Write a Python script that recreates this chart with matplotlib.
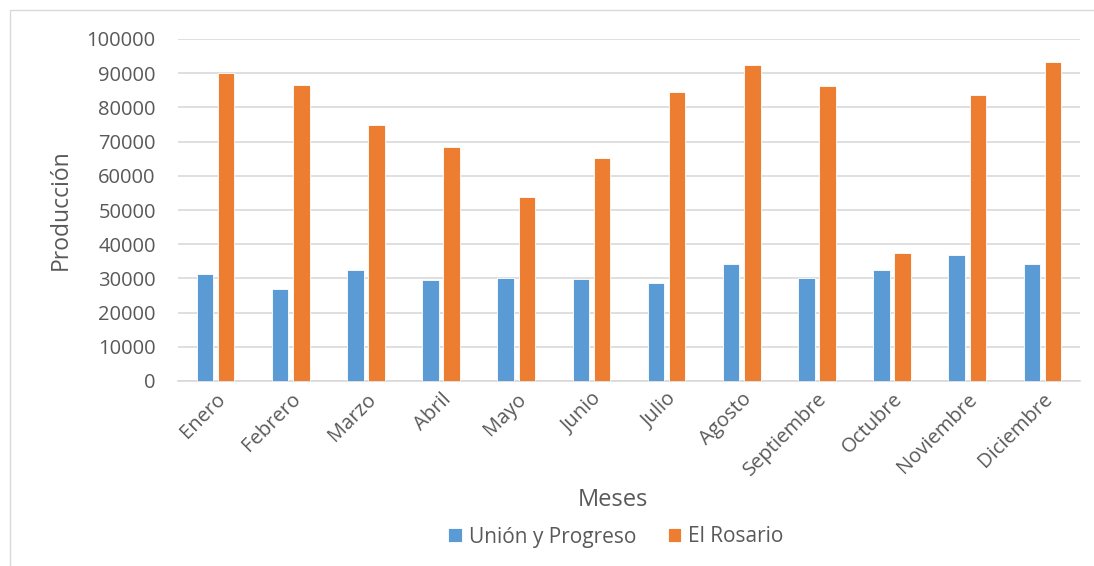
import numpy as np
import matplotlib.pyplot as plt
from matplotlib.patches import Rectangle

meses = ["Enero", "Febrero", "Marzo", "Abril", "Mayo", "Junio", "Julio",
         "Agosto", "Septiembre", "Octubre", "Noviembre", "Diciembre"]
union_progreso = [31400, 26800, 32500, 29400, 30000, 29900, 28600,
                  34300, 30000, 32500, 36700, 34300]
el_rosario = [90200, 86500, 74900, 68400, 53800, 65300, 84600,
              92500, 86200, 37500, 83500, 93400]

plt.rcParams['font.family'] = ['Open Sans', 'DejaVu Sans']
gris = "#595959"

fig = plt.figure(figsize=(10.94, 5.66), dpi=100)
ax = fig.add_axes([178 / 1094, 1 - 381 / 566, (1080 - 178) / 1094, (381 - 39) / 566])

# light chart border
fig.patches.append(Rectangle((10 / 1094, -0.01), 1.1, 1 - 10 / 566 + 0.01,
                             transform=fig.transFigure, fill=False,
                             edgecolor="#D9D9D9", linewidth=1))

x = np.arange(len(meses))
w = 0.22
ax.bar(x - 0.14, union_progreso, w, color="#5B9BD5", edgecolor="white",
       linewidth=0.6, label="Unión y Progreso", zorder=3)
ax.bar(x + 0.14, el_rosario, w, color="#ED7D31", edgecolor="white",
       linewidth=0.6, label="El Rosario", zorder=3)

ax.set_xlim(-0.5, len(meses) - 0.5)
ax.set_ylim(0, 100000)
ax.set_yticks(np.arange(0, 100001, 10000))
ax.yaxis.grid(True, color="#D9D9D9", linewidth=1.2, zorder=0)
for s in ["top", "right", "left"]:
    ax.spines[s].set_visible(False)
ax.spines["bottom"].set_color("#D9D9D9")
ax.spines["bottom"].set_linewidth(1.2)
ax.tick_params(axis="both", length=0, colors=gris, labelsize=14.5)
ax.tick_params(axis="y", pad=16)
ax.set_xticks(x)
ax.set_xticklabels(meses, rotation=45, ha="right", rotation_mode="anchor")
ax.tick_params(axis="x", pad=6)

ax.set_ylabel("Producción", fontsize=16.5, color=gris, labelpad=10)
fig.text(613 / 1094, 1 - 500 / 566, "Meses", fontsize=17, color=gris,
         ha="center", va="center")

ax.legend(loc="center", bbox_to_anchor=(616 / 1094, 1 - 537 / 566),
          bbox_transform=fig.transFigure, ncol=2, frameon=False,
          fontsize=15, labelcolor=gris, handlelength=0.65, handleheight=0.65,
          handletextpad=0.35, columnspacing=1.5)

fig.savefig("out.png", dpi=100)
